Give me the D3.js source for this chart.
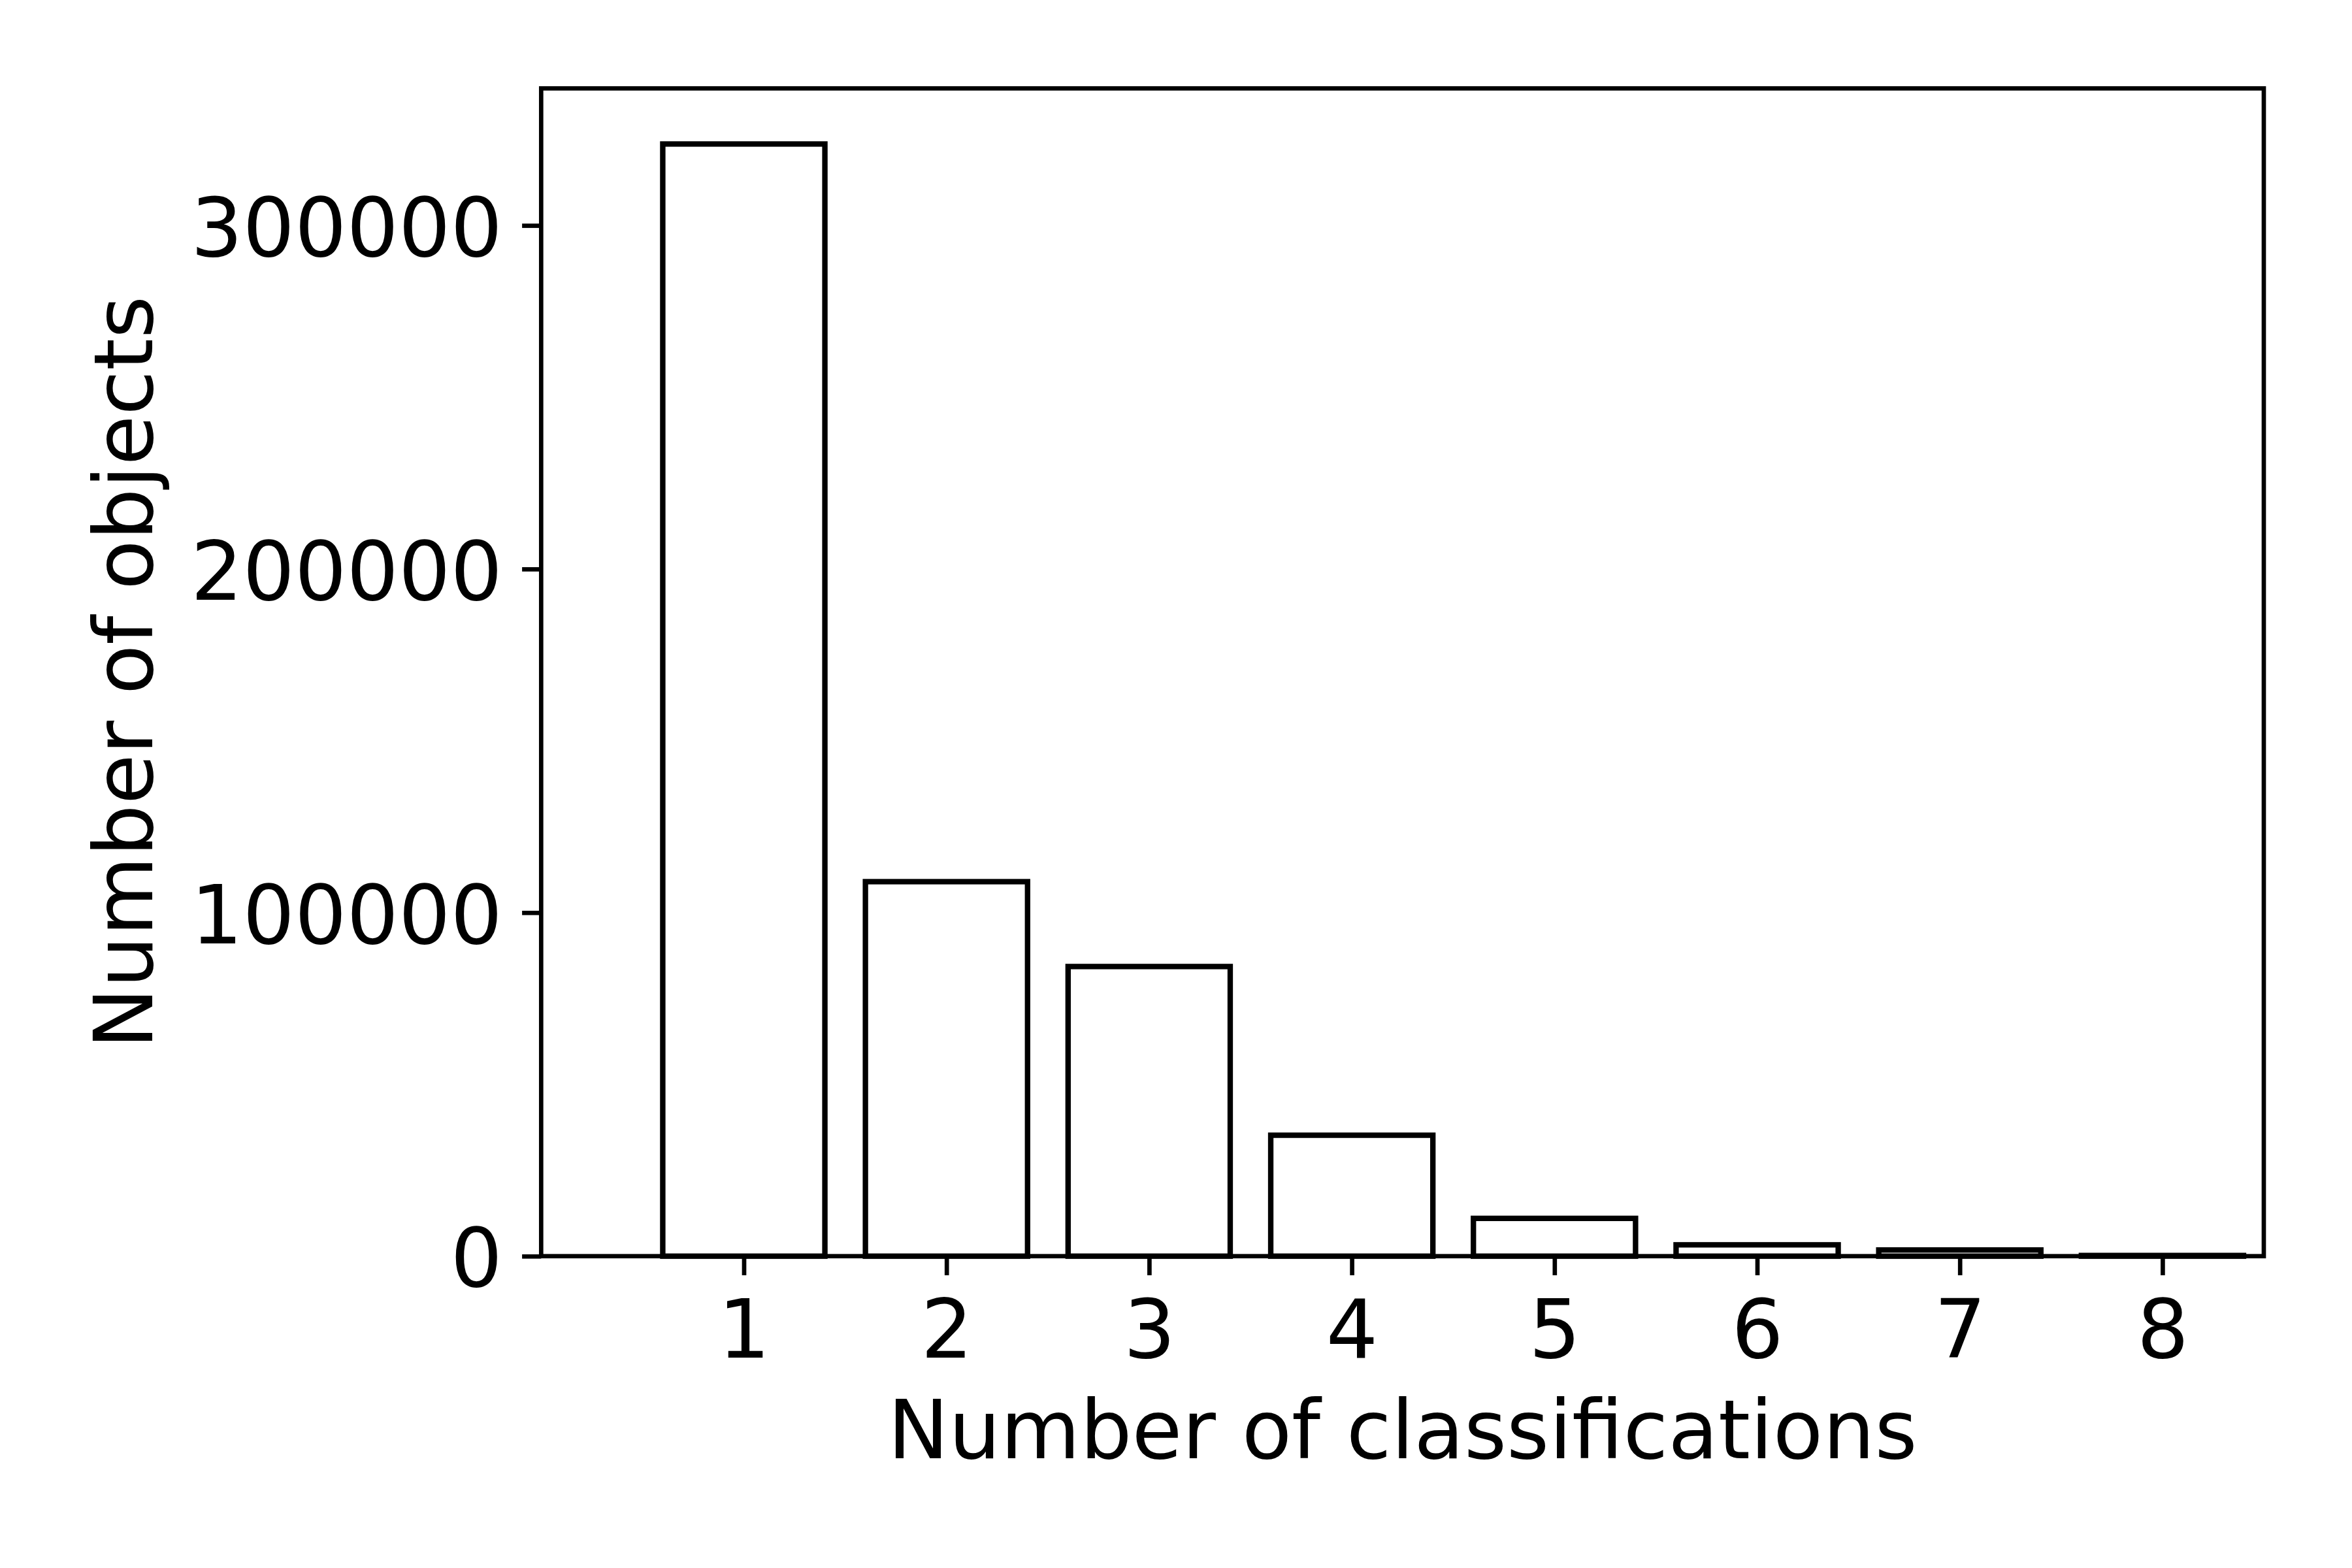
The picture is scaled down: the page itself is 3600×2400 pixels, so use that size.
<!DOCTYPE html>
<html>
<head>
<meta charset="utf-8">
<script src="https://cdn.jsdelivr.net/npm/d3@7"></script>
<style>
  html, body { margin: 0; padding: 0; background: #ffffff; }
  svg { display: block; font-family: "DejaVu Sans", sans-serif; }
</style>
</head>
<body>
<script>
// ---- data ----
const categories = [1, 2, 3, 4, 5, 6, 7, 8];
const counts = [323700, 109000, 84300, 35200, 11000, 3300, 1800, 200];
const yTickValues = [0, 100000, 200000, 300000];
const xTickValues = [1, 2, 3, 4, 5, 6, 7, 8];
const xLabel = "Number of classifications";
const yLabel = "Number of objects";

// ---- layout ----
const W = 3600, H = 2400;
const plotL = 828.3, plotR = 3465, plotT = 135.3, plotB = 1922.7;
const barWidth = 0.8;
const fontSize = 125;
const labelSize = 125;
const tickLen = 29.2;
const spineW = 6.67;
const barStroke = 8.33;

const svg = d3.select("body").append("svg")
  .attr("width", W).attr("height", H)
  .attr("viewBox", `0 0 ${W} ${H}`);

svg.append("rect").attr("width", W).attr("height", H).attr("fill", "#ffffff");

const x = d3.scaleLinear().domain([0, 8.5]).range([plotL, plotR]);
const y = d3.scaleLinear().domain([0, d3.max(counts) * 1.05]).range([plotB, plotT]);

const data = categories.map((c, i) => ({ c, v: counts[i] }));

// bars
svg.append("g").selectAll("rect").data(data).join("rect")
  .attr("x", d => x(d.c - barWidth / 2))
  .attr("width", d => x(d.c + barWidth / 2) - x(d.c - barWidth / 2))
  .attr("y", d => y(d.v))
  .attr("height", d => y(0) - y(d.v))
  .attr("fill", "#ffffff")
  .attr("stroke", "#000000")
  .attr("stroke-width", barStroke);

// frame (spines)
svg.append("rect")
  .attr("x", plotL).attr("y", plotT)
  .attr("width", plotR - plotL).attr("height", plotB - plotT)
  .attr("fill", "none").attr("stroke", "#000000")
  .attr("stroke-width", spineW).attr("stroke-linejoin", "miter");

// x axis
const gx = svg.append("g").attr("transform", `translate(0,${plotB})`)
  .call(d3.axisBottom(x).tickValues(xTickValues).tickFormat(d3.format("d"))
        .tickSize(tickLen).tickPadding(0));
gx.select(".domain").remove();
gx.selectAll(".tick line").attr("stroke", "#000").attr("stroke-width", spineW);
gx.selectAll(".tick text")
  .attr("y", 2078 - plotB).attr("dy", null)
  .attr("font-family", "DejaVu Sans").attr("font-size", fontSize)
  .attr("fill", "#000");

// y axis
const gy = svg.append("g").attr("transform", `translate(${plotL},0)`)
  .call(d3.axisLeft(y).tickValues(yTickValues).tickFormat(d3.format("d"))
        .tickSize(tickLen).tickPadding(0));
gy.select(".domain").remove();
gy.selectAll(".tick line").attr("stroke", "#000").attr("stroke-width", spineW);
gy.selectAll(".tick text")
  .attr("x", -(tickLen + 30)).attr("dy", "0.37em")
  .attr("font-family", "DejaVu Sans").attr("font-size", fontSize)
  .attr("fill", "#000");

// axis labels
svg.append("text")
  .attr("x", (plotL + plotR) / 2).attr("y", 2232)
  .attr("text-anchor", "middle")
  .attr("font-family", "DejaVu Sans").attr("font-size", labelSize)
  .attr("fill", "#000")
  .text(xLabel);

svg.append("text")
  .attr("transform", `translate(233,${(plotT + plotB) / 2}) rotate(-90)`)
  .attr("text-anchor", "middle")
  .attr("font-family", "DejaVu Sans").attr("font-size", labelSize)
  .attr("fill", "#000")
  .text(yLabel);
</script>
</body>
</html>
